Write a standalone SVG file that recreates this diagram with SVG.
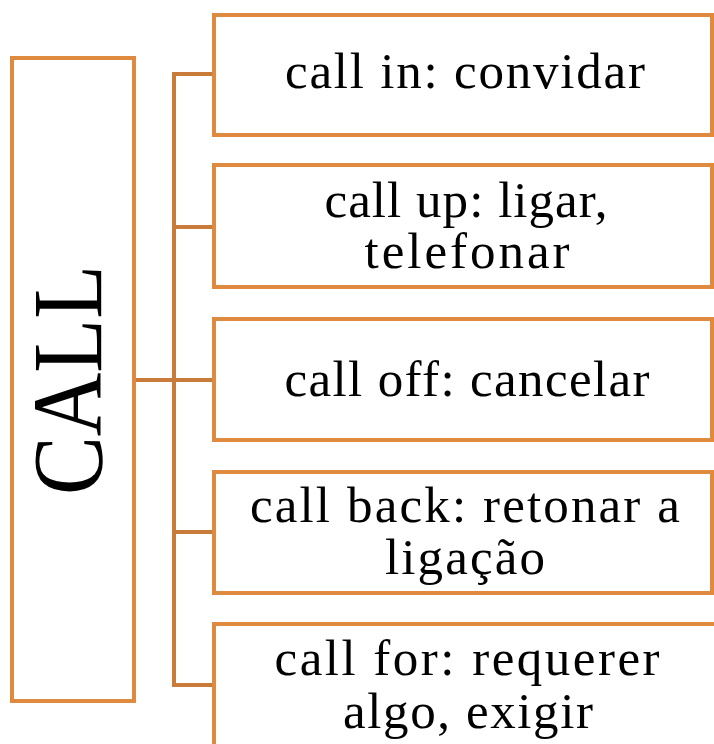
<svg xmlns="http://www.w3.org/2000/svg" width="714" height="744" viewBox="0 0 714 744">
<style>
.box{fill:#ffffff;stroke:#E08A40;stroke-width:4;}
.con{fill:none;stroke:#C97B3A;stroke-width:4;}
.t{font-family:"Liberation Serif","DejaVu Serif",serif;font-size:51px;fill:#000;text-anchor:middle;}
.big{font-family:"Liberation Serif","DejaVu Serif",serif;font-size:100px;fill:#000;text-anchor:middle;}
</style>
<rect width="714" height="744" fill="#ffffff"/>
<g id="connectors">
<path class="con" d="M134 380 H214"/>
<path class="con" d="M214 74 H174 V685 H214"/>
<path class="con" d="M174 227 H214"/>
<path class="con" d="M174 532 H214"/>
</g>
<g id="call">
<rect class="box" x="12" y="58" width="122" height="643"/>
<text class="big" transform="translate(101 380) rotate(-90)" textLength="230" lengthAdjust="spacingAndGlyphs">CALL</text>
</g>
<g id="call-in">
<rect class="box" x="214" y="15" width="498" height="120"/>
<text class="t" x="465" y="88" textLength="360">call in: convidar</text>
</g>
<g id="call-up">
<rect class="box" x="214" y="165" width="498" height="122"/>
<text class="t" x="466" y="217" textLength="283">call up: ligar,</text>
<text class="t" x="467" y="268" textLength="205">telefonar</text>
</g>
<g id="call-off">
<rect class="box" x="214" y="319" width="498" height="121"/>
<text class="t" x="467" y="396" textLength="365">call off: cancelar</text>
</g>
<g id="call-back">
<rect class="box" x="214" y="472" width="498" height="121"/>
<text class="t" x="465" y="522" textLength="430">call back: retonar a</text>
<text class="t" x="465" y="574" textLength="160">ligação</text>
</g>
<g id="call-for">
<rect class="box" x="214" y="624" width="520" height="140"/>
<text class="t" x="467" y="675" textLength="385">call for: requerer</text>
<text class="t" x="468" y="728" textLength="250">algo, exigir</text>
</g>
</svg>
